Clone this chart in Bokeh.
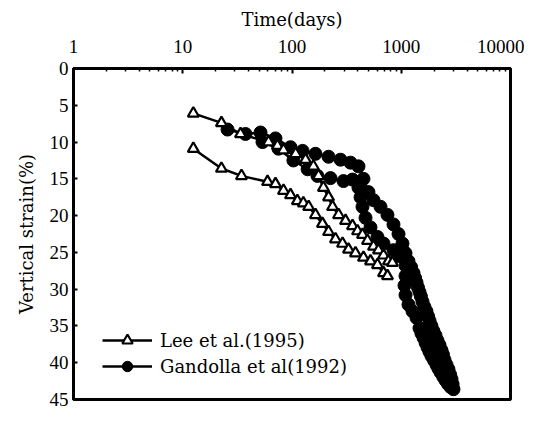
from bokeh.plotting import figure
from bokeh.models import (Range1d, FixedTicker, NumeralTickFormatter, Legend,
                          LegendItem, ColumnDataSource)
from bokeh.embed import file_html
from bokeh.resources import INLINE

# ---- data ----
x_ticks = [1, 10, 100, 1000, 10000]
y_ticks = [0, 5, 10, 15, 20, 25, 30, 35, 40, 45]

lee_a_t = [12.5, 22.6, 33.8, 61, 73.6, 83.6, 108, 133, 157, 175, 194, 216, 235,
           267, 309, 358, 398, 442, 491, 557, 619, 688, 764, 830]
lee_a_s = [6.1, 7.4, 8.9, 10.0, 10.5, 11.1, 11.6, 12.4, 13.3, 14.6, 16.2, 17.5,
           18.8, 19.9, 20.7, 21.4, 22.1, 22.6, 23.4, 24.2, 24.7, 25.4, 26.2, 26.4]

lee_b_t = [12.5, 22.6, 34.5, 59.7, 70.6, 83.6, 96.9, 112, 127, 142, 164, 190,
           216, 250, 290, 329, 381, 451, 523, 606, 688, 748]
lee_b_s = [10.9, 13.6, 14.6, 15.4, 15.7, 16.6, 17.2, 18.0, 18.3, 18.8, 19.9,
           21.1, 22.2, 23.2, 23.8, 24.6, 25.1, 25.7, 26.2, 26.7, 27.8, 28.2]

gan_a_t = [25.7, 37.5, 51.5, 70.6, 96.9, 125, 164, 216, 278, 343, 406, 451,
           501, 557, 646, 748, 849, 944, 1026, 1094, 1165, 1230, 1295, 1340,
           1380, 1425, 1469, 1515, 1565, 1630, 1702, 1760, 1815, 1890, 1972,
           2060, 2148, 2240, 2335, 2410, 2489, 2600, 2707, 2800, 2884, 2950, 3007]
gan_a_s = [8.3, 8.9, 8.7, 9.5, 10.7, 11.2, 11.6, 12.0, 12.4, 12.8, 13.3, 15.0,
           16.8, 17.9, 18.8, 19.9, 21.2, 22.5, 23.8, 25.1, 26.2, 27.0, 27.8,
           28.5, 29.1, 29.8, 30.4, 31.0, 31.7, 32.4, 33.0, 33.7, 34.3, 35.0,
           35.7, 36.3, 37.0, 37.6, 38.3, 38.9, 39.6, 40.3, 40.9, 41.6, 42.2,
           42.9, 43.6]

gan_b_t = [53.7, 75.2, 103, 139, 171, 225, 296, 358, 406, 424, 442, 471, 523,
           606, 688, 849, 944, 1094, 1094, 1071, 1094, 1165, 1268, 1380, 1469,
           1530, 1599, 1670, 1739, 1810, 1892, 2000, 2102, 2190, 2288, 2420,
           2542, 2680, 2824]
gan_b_s = [10.0, 10.9, 12.5, 13.7, 14.6, 14.9, 15.3, 15.1, 16.2, 17.5, 18.8,
           20.3, 21.6, 22.9, 23.8, 24.7, 25.5, 26.8, 28.2, 29.5, 30.8, 32.1,
           33.0, 33.9, 35.3, 36.0, 36.6, 37.3, 37.9, 38.5, 39.1, 39.7, 40.3,
           40.8, 41.3, 41.9, 42.4, 42.9, 43.3]

lee_label = "Lee et al.(1995)"
gan_label = "Gandolla et al(1992)"

# ---- figure ----
p = figure(width=524, height=409, x_axis_type="log", x_axis_location="above",
           x_range=Range1d(1, 10000), y_range=Range1d(45, 0),
           output_backend="svg", toolbar_location=None,
           min_border_left=73, min_border_right=14, min_border_top=68,
           min_border_bottom=10)
p.grid.visible = False
p.outline_line_color = "black"
p.outline_line_width = 3
p.outline_line_alpha = 1.0
p.background_fill_color = "white"
p.border_fill_color = "white"

minor = [m * 10 ** k for k in range(4) for m in range(2, 10)]
xa = p.xaxis[0]
xa.ticker = FixedTicker(ticks=x_ticks, minor_ticks=minor)
xa.formatter = NumeralTickFormatter(format="0")
xa.axis_label = "Time(days)"
xa.major_tick_in = 5
xa.major_tick_out = 0
xa.minor_tick_in = 3
xa.minor_tick_out = 0
xa.major_label_standoff = 16
xa.axis_label_standoff = 7

ya = p.yaxis[0]
ya.ticker = FixedTicker(ticks=y_ticks)
ya.axis_label = "Vertical strain(%)"
ya.major_tick_in = 4
ya.major_tick_out = 0
ya.minor_tick_in = 0
ya.minor_tick_out = 0
ya.major_label_standoff = 5
ya.axis_label_standoff = 10

for ax in (xa, ya):
    ax.axis_line_width = 3
    ax.axis_line_color = "black"
    ax.major_tick_line_width = 2
    ax.minor_tick_line_width = 1.5
    ax.major_label_text_font = "Liberation Serif"
    ax.major_label_text_font_size = "19px"
    ax.major_label_text_color = "black"
    ax.axis_label_text_font = "DejaVu Serif"
    ax.axis_label_text_font_size = "18px"
    ax.axis_label_text_font_style = "normal"
    ax.axis_label_text_color = "black"

# Gandolla (filled circles) drawn first
g_items = []
for t, s in ((gan_a_t, gan_a_s), (gan_b_t, gan_b_s)):
    src = ColumnDataSource(dict(t=t, s=s))
    ln = p.line("t", "s", source=src, line_color="black", line_width=2.5)
    sc = p.scatter("t", "s", source=src, marker="circle", size=13,
                   fill_color="black", line_color="black")
    g_items.append((ln, sc))

# Lee (open triangles)
l_items = []
for t, s in ((lee_a_t, lee_a_s), (lee_b_t, lee_b_s)):
    src = ColumnDataSource(dict(t=t, s=s))
    ln = p.line("t", "s", source=src, line_color="black", line_width=2.5)
    sc = p.scatter("t", "s", source=src, marker="triangle", size=11,
                   fill_color="white", line_color="black", line_width=2.2)
    l_items.append((ln, sc))

legend = Legend(items=[
    LegendItem(label=lee_label, renderers=list(l_items[0])),
    LegendItem(label=gan_label, renderers=list(g_items[0])),
], location=(29, 20), glyph_width=50, glyph_height=26, spacing=-3,
    padding=0, margin=0, label_standoff=8, border_line_color=None,
    background_fill_alpha=0, label_text_font="DejaVu Serif",
    label_text_font_size="18px", label_text_color="black")
p.add_layout(legend)

open("out.html", "w").write(file_html(p, INLINE))
